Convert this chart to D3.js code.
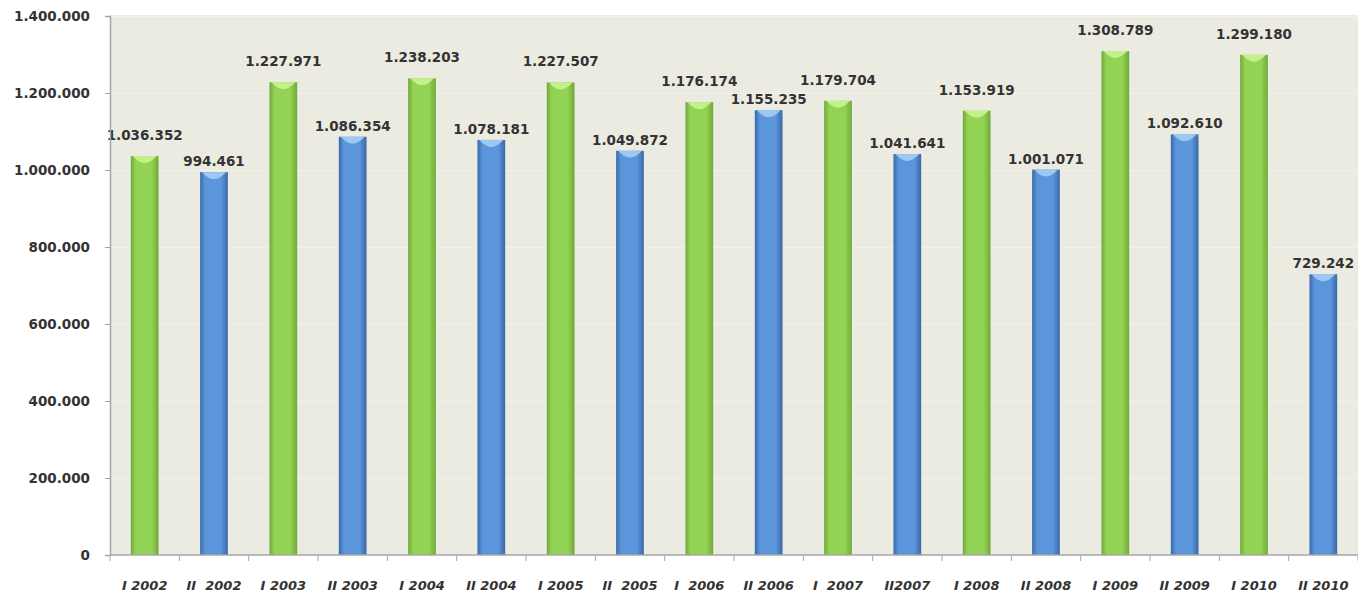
<html>
<head>
<meta charset="utf-8">
<script src="https://cdn.jsdelivr.net/npm/d3@7"></script>
<style>
  body { margin: 0; background: #fff; }
  text { font-family: "DejaVu Sans", Verdana, sans-serif; }
</style>
</head>
<body>
<div id="chart"></div>
<script>
// periods (semester + year)
var periods = ["I 2002", "II  2002", "I 2003", "II 2003", "I 2004", "II 2004", "I 2005", "II  2005", "I  2006",
  "II 2006", "I  2007", "II2007", "I 2008", "II 2008", "I 2009", "II 2009", "I 2010", "II 2010"];
var values = [1036352, 994461, 1227971, 1086354, 1238203, 1078181, 1227507, 1049872, 1176174,
  1155235, 1179704, 1041641, 1153919, 1001071, 1308789, 1092610, 1299180, 729242];
var semester = ["I", "II", "I", "II", "I", "II", "I", "II", "I", "II", "I", "II", "I", "II", "I", "II", "I", "II"];
var yTicks = [0, 200000, 400000, 600000, 800000, 1000000, 1200000, 1400000];

var width = 1358, height = 596;
var margin = { top: 16, right: 0, bottom: 41, left: 110 };

var loc = d3.formatLocale({ decimal: ",", thousands: ".", grouping: [3], currency: ["", ""] });
var fmt = loc.format(",d");

var svg = d3.select("#chart").append("svg").attr("width", width).attr("height", height);

var xScale = d3.scaleBand().domain(d3.range(periods.length))
  .range([margin.left, width - margin.right]).paddingInner(0.6).paddingOuter(0.3);
var yScale = d3.scaleLinear().domain([0, 1400000]).range([height - margin.bottom, margin.top]);

// gradients
var defs = svg.append("defs");
function grad(id, edge, mid) {
  var g = defs.append("linearGradient").attr("id", id).attr("x1", "0").attr("x2", "1").attr("y1", "0").attr("y2", "0");
  g.append("stop").attr("offset", "0%").attr("stop-color", edge);
  g.append("stop").attr("offset", "18%").attr("stop-color", mid);
  g.append("stop").attr("offset", "75%").attr("stop-color", mid);
  g.append("stop").attr("offset", "100%").attr("stop-color", edge);
}
grad("gI", "#70a93c", "#93d354");
grad("gII", "#3a69a8", "#5b96dc");
var capColor = { I: "#c4f08a", II: "#9cc8f2" };
var fill = { I: "url(#gI)", II: "url(#gII)" };
var labelGap = { I: 21, II: 11 };

// plot background
svg.append("rect")
  .attr("x", margin.left).attr("y", margin.top - 1)
  .attr("width", width - margin.left - margin.right)
  .attr("height", height - margin.bottom - margin.top + 1)
  .attr("fill", "#ecebe1");

// faint gridlines
svg.append("g").selectAll("line").data(yTicks.slice(1)).enter().append("line")
  .attr("x1", margin.left).attr("x2", width - margin.right)
  .attr("y1", function(d) { return yScale(d) + 0.5; })
  .attr("y2", function(d) { return yScale(d) + 0.5; })
  .attr("stroke", "#f3f2ea").attr("stroke-width", 1);

// bars
var bars = svg.append("g").selectAll("g").data(values).enter().append("g");
bars.append("rect")
  .attr("x", function(d, i) { return xScale(i); })
  .attr("y", function(d) { return yScale(d); })
  .attr("width", xScale.bandwidth())
  .attr("height", function(d) { return yScale(0) - yScale(d); })
  .attr("fill", function(d, i) { return fill[semester[i]]; });
// light bevel on top of each bar
bars.append("path")
  .attr("d", function(d, i) {
    var x0 = xScale(i), w = xScale.bandwidth(), y0 = yScale(d);
    return "M" + (x0 + 2) + "," + y0 + " L" + (x0 + w - 2) + "," + y0 +
      " Q" + (x0 + w * 0.7) + "," + (y0 + 7) + " " + (x0 + w / 2) + "," + (y0 + 7) +
      " Q" + (x0 + w * 0.3) + "," + (y0 + 7) + " " + (x0 + 2) + "," + y0 + "Z";
  })
  .attr("fill", function(d, i) { return capColor[semester[i]]; });

// value labels
svg.append("g").selectAll("text").data(values).enter().append("text")
  .attr("x", function(d, i) { return xScale(i) + xScale.bandwidth() / 2; })
  .attr("y", function(d, i) { return yScale(d) - labelGap[semester[i]] + 5; })
  .attr("text-anchor", "middle")
  .attr("font-size", "13.5px").attr("font-weight", "bold").attr("fill", "#333")
  .text(function(d) { return fmt(d); });

// y axis
var axisY = svg.append("g")
  .attr("transform", "translate(" + margin.left + ",0)")
  .call(d3.axisLeft(yScale).tickValues(yTicks).tickSize(5).tickPadding(15).tickFormat(fmt));
axisY.select(".domain").attr("stroke", "#a6a6a6").attr("stroke-width", 1.5);
axisY.selectAll(".tick line").attr("stroke", "#a6a6a6");
axisY.selectAll(".tick text").attr("font-size", "13.5px").attr("font-weight", "bold")
  .attr("fill", "#333").style("font-family", "'DejaVu Sans', Verdana, sans-serif");

// x axis (ticks between categories)
var step = xScale.step();
svg.append("line")
  .attr("x1", margin.left).attr("x2", width - margin.right)
  .attr("y1", yScale(0)).attr("y2", yScale(0))
  .attr("stroke", "#a6a6a6").attr("stroke-width", 1.5);
svg.append("g").selectAll("line").data(d3.range(periods.length + 1)).enter().append("line")
  .attr("x1", function(i) { return margin.left + i * step; })
  .attr("x2", function(i) { return margin.left + i * step; })
  .attr("y1", yScale(0)).attr("y2", yScale(0) + 6)
  .attr("stroke", "#a6a6a6");
svg.append("g").selectAll("text").data(periods).enter().append("text")
  .attr("x", function(d, i) { return xScale(i) + xScale.bandwidth() / 2; })
  .attr("y", 590)
  .attr("text-anchor", "middle")
  .attr("font-size", "13px").attr("font-weight", "bold").attr("font-style", "italic")
  .attr("fill", "#333")
  .style("white-space", "pre")
  .text(function(d) { return d; });
</script>
</body>
</html>
